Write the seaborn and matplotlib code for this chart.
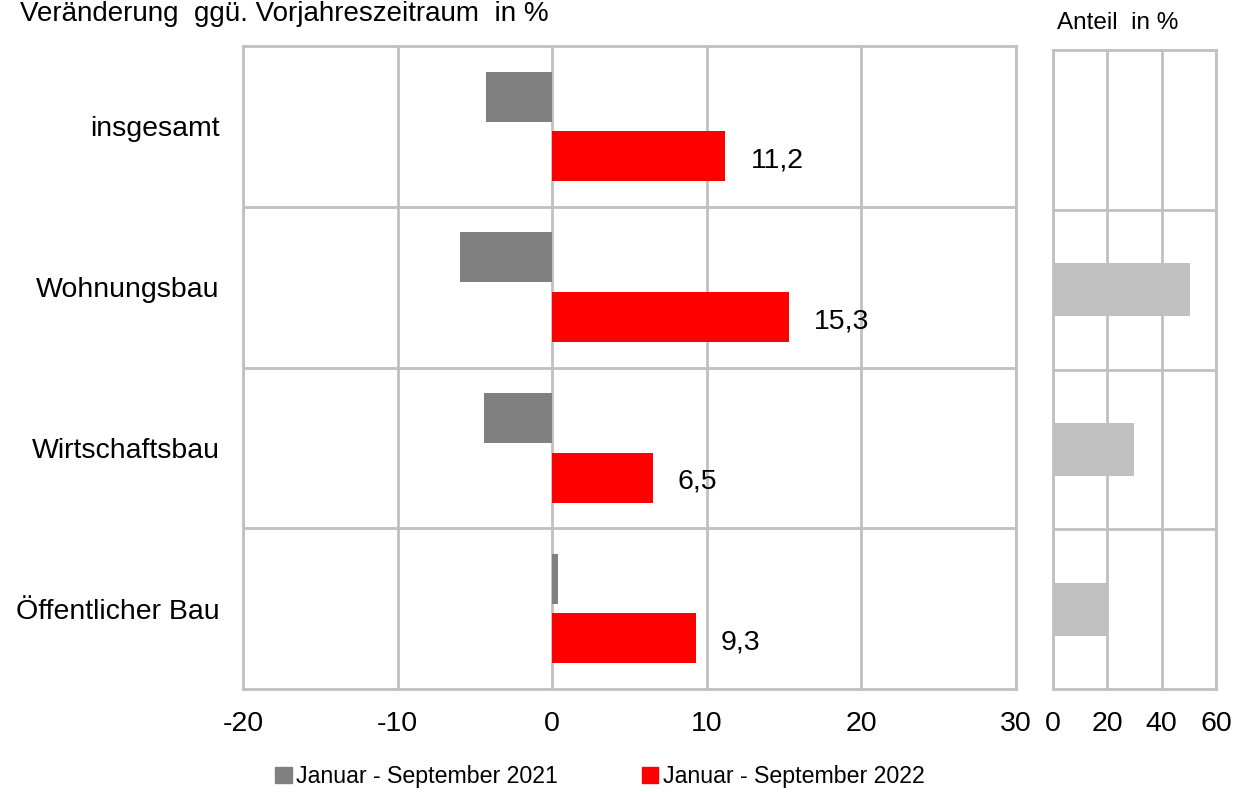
import numpy as np
import pandas as pd
import matplotlib.pyplot as plt
import seaborn as sns
from matplotlib.patches import Patch
from matplotlib.ticker import FixedLocator

kategorien = ["insgesamt", "Wohnungsbau", "Wirtschaftsbau", "Öffentlicher Bau"]
serien = ["Januar - September 2021", "Januar - September 2022"]
werte_2021 = [-4.3, -6.0, -4.4, 0.4]
werte_2022 = [11.2, 15.3, 6.5, 9.3]
anteil = [np.nan, 50.3, 29.8, 19.9]

grau = "#808080"
rot = "#FF0000"
hellgrau = "#C0C0C0"
gitter = "#C0C0C0"

sns.set_theme(style="white")
plt.rcParams["font.family"] = ["Liberation Sans", "DejaVu Sans"]
plt.rcParams["axes.unicode_minus"] = False
plt.rcParams["text.color"] = "black"
plt.rcParams["xtick.color"] = "black"
plt.rcParams["ytick.color"] = "black"

df = pd.DataFrame({
    "Kategorie": kategorien * 2,
    "Zeitraum": [serien[0]] * 4 + [serien[1]] * 4,
    "Wert": werte_2021 + werte_2022,
})
df_anteil = pd.DataFrame({"Kategorie": kategorien, "Anteil": anteil})

fig = plt.figure(figsize=(12.42, 7.92), dpi=100)
ax = fig.add_axes([0.1957, 0.13, 0.6224, 0.8119])
ax2 = fig.add_axes([0.8478, 0.13, 0.1312, 0.8068])

# linke Grafik: Veraenderung
sns.barplot(data=df, y="Kategorie", x="Wert", hue="Zeitraum", order=kategorien,
            hue_order=serien, palette=[grau, rot], orient="h", width=0.74, gap=0.16,
            saturation=1, legend=False, linewidth=0, ax=ax)
beschr = ax.bar_label(ax.containers[1], labels=[f"{v:.1f}".replace(".", ",") for v in werte_2022],
                      padding=18, fontsize=20.5, color="black")
for t in beschr:
    t.xyann = (18, -3)

ax.set_xlim(-20, 30)
ax.set_ylim(3.5, -0.5)
ax.set_xticks(range(-20, 31, 10))
ax.yaxis.set_minor_locator(FixedLocator([0.5, 1.5, 2.5]))
ax.grid(True, axis="x", color=gitter, linewidth=2)
ax.grid(True, axis="y", which="minor", color=gitter, linewidth=2)
ax.set_axisbelow(True)
ax.set_xlabel("")
ax.set_ylabel("")
ax.tick_params(axis="both", which="both", length=0, labelsize=20.5)
ax.tick_params(axis="x", pad=16)
ax.tick_params(axis="y", pad=17)
for s in ax.spines.values():
    s.set_color(gitter)
    s.set_linewidth(2)

# rechte Grafik: Anteil
sns.barplot(data=df_anteil, y="Kategorie", x="Anteil", order=kategorien, color=hellgrau,
            orient="h", width=0.33, saturation=1, linewidth=0, ax=ax2)
ax2.set_xlim(0, 60)
ax2.set_ylim(3.5, -0.5)
ax2.set_xticks([0, 20, 40, 60])
ax2.set_yticks([])
ax2.yaxis.set_minor_locator(FixedLocator([0.5, 1.5, 2.5]))
ax2.grid(True, axis="x", color=gitter, linewidth=2)
ax2.grid(True, axis="y", which="minor", color=gitter, linewidth=2)
ax2.set_axisbelow(True)
ax2.set_xlabel("")
ax2.set_ylabel("")
ax2.tick_params(axis="both", which="both", length=0, labelsize=20.5)
ax2.tick_params(axis="x", pad=16)
for s in ax2.spines.values():
    s.set_color(gitter)
    s.set_linewidth(2)

fig.text(0.016, 0.9735, "Veränderung  ggü. Vorjahreszeitraum  in %", fontsize=20, va="baseline")
fig.text(0.9, 0.971, "Anteil  in %", fontsize=17.5, ha="center", va="center")

fig.legend(handles=[Patch(color=grau), Patch(color=rot)], labels=serien,
           loc="center", bbox_to_anchor=(0.483, 0.019), ncol=2, frameon=False,
           handlelength=0.7, handleheight=0.7, handletextpad=0.2, columnspacing=3.6,
           fontsize=16.7, borderpad=0)

fig.savefig("out.png", dpi=100)
